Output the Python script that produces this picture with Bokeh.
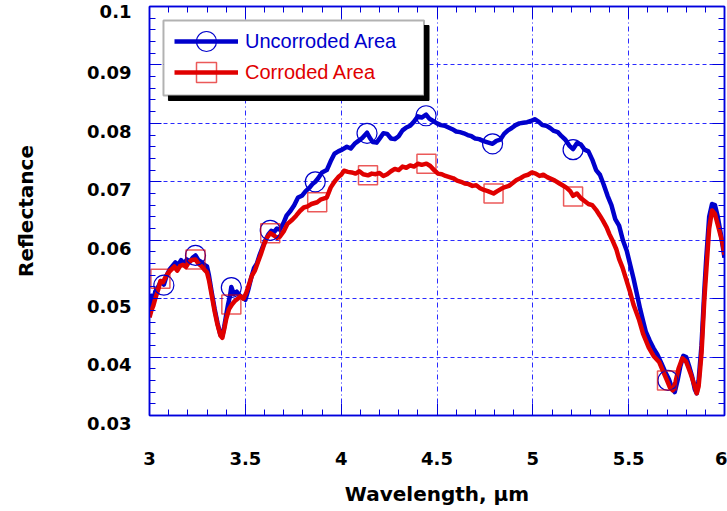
from bokeh.plotting import figure
from bokeh.models import (LinearAxis, Legend, LegendItem, BoxAnnotation, FixedTicker,
                          ColumnDataSource, NumeralTickFormatter, CustomJSTickFormatter)
from bokeh.embed import file_html
from bokeh.resources import INLINE

# ---------------- data ----------------
unc_x = [3.000, 3.010, 3.020, 3.030, 3.045, 3.060, 3.075, 3.090, 3.105, 3.120, 3.135, 3.150, 3.165,
         3.180, 3.195, 3.210, 3.225, 3.240, 3.255, 3.270, 3.285, 3.300, 3.310, 3.325, 3.340, 3.355,
         3.370, 3.380, 3.390, 3.400, 3.410, 3.420, 3.427, 3.440, 3.455, 3.470, 3.485, 3.500, 3.515,
         3.530, 3.545, 3.560, 3.575, 3.590, 3.605, 3.620, 3.635, 3.650, 3.665, 3.680, 3.700, 3.715,
         3.735, 3.755, 3.775, 3.795, 3.815, 3.835, 3.850, 3.865, 3.880, 3.900, 3.925, 3.945, 3.965,
         3.985, 4.005, 4.030, 4.050, 4.070, 4.090, 4.110, 4.135, 4.150, 4.165, 4.185, 4.205, 4.220,
         4.240, 4.260, 4.280, 4.300, 4.320, 4.340, 4.360, 4.380, 4.400, 4.420, 4.443, 4.460, 4.480,
         4.500, 4.520, 4.540, 4.560, 4.580, 4.600, 4.620, 4.640, 4.660, 4.680, 4.700, 4.720, 4.740,
         4.760, 4.790, 4.810, 4.830, 4.850, 4.870, 4.890, 4.910, 4.930, 4.950, 4.970, 4.990, 5.010,
         5.030, 5.050, 5.070, 5.090, 5.110, 5.130, 5.150, 5.170, 5.190, 5.210, 5.230, 5.250, 5.270,
         5.290, 5.310, 5.330, 5.350, 5.370, 5.390, 5.410, 5.430, 5.450, 5.470, 5.490, 5.510, 5.525,
         5.545, 5.560, 5.575, 5.590, 5.610, 5.630, 5.650, 5.670, 5.690, 5.710, 5.725, 5.740, 5.755,
         5.770, 5.785, 5.800, 5.815, 5.830, 5.845, 5.855, 5.865, 5.880, 5.895, 5.905, 5.920, 5.935,
         5.950, 5.965, 5.980, 6.000]
unc_y = [0.0478, 0.0505, 0.0496, 0.0512, 0.0520, 0.0530, 0.0524, 0.0540, 0.0550, 0.0556, 0.0562,
         0.0558, 0.0566, 0.0560, 0.0567, 0.0563, 0.0570, 0.0574, 0.0566, 0.0563, 0.0558, 0.0555,
         0.0540, 0.0510, 0.0482, 0.0458, 0.0438, 0.0436, 0.0452, 0.0472, 0.0490, 0.0505, 0.0520,
         0.0508, 0.0512, 0.0506, 0.0502, 0.0498, 0.0515, 0.0535, 0.0552, 0.0560, 0.0575, 0.0588,
         0.0600, 0.0610, 0.0616, 0.0614, 0.0620, 0.0618, 0.0630, 0.0642, 0.0650, 0.0660, 0.0673,
         0.0676, 0.0684, 0.0690, 0.0696, 0.0700, 0.0706, 0.0716, 0.0720, 0.0735, 0.0748, 0.0752,
         0.0755, 0.0760, 0.0757, 0.0765, 0.0770, 0.0775, 0.0784, 0.0775, 0.0768, 0.0767, 0.0776,
         0.0783, 0.0782, 0.0774, 0.0773, 0.0778, 0.0788, 0.0793, 0.0796, 0.0803, 0.0812, 0.0810,
         0.0815, 0.0808, 0.0804, 0.0800, 0.0797, 0.0796, 0.0793, 0.0790, 0.0786, 0.0785, 0.0783,
         0.0780, 0.0778, 0.0774, 0.0773, 0.0770, 0.0768, 0.0765, 0.0770, 0.0772, 0.0782, 0.0788,
         0.0792, 0.0797, 0.0800, 0.0801, 0.0802, 0.0804, 0.0807, 0.0803, 0.0797, 0.0796, 0.0792,
         0.0787, 0.0785, 0.0778, 0.0772, 0.0762, 0.0756, 0.0766, 0.0764, 0.0755, 0.0752, 0.0738,
         0.0720, 0.0712, 0.0695, 0.0676, 0.0660, 0.0636, 0.0625, 0.0600, 0.0582, 0.0555, 0.0535,
         0.0505, 0.0482, 0.0462, 0.0443, 0.0428, 0.0415, 0.0404, 0.0390, 0.0375, 0.0362, 0.0348,
         0.0340, 0.0360, 0.0385, 0.0402, 0.0400, 0.0385, 0.0368, 0.0345, 0.0338, 0.0360, 0.0420,
         0.0515, 0.0570, 0.0640, 0.0662, 0.0660, 0.0640, 0.0612, 0.0570]

cor_x = [3.000, 3.010, 3.020, 3.030, 3.045, 3.057, 3.070, 3.085, 3.100, 3.115, 3.130, 3.145, 3.160,
         3.175, 3.190, 3.205, 3.220, 3.240, 3.255, 3.270, 3.285, 3.300, 3.310, 3.325, 3.340, 3.355,
         3.370, 3.380, 3.390, 3.400, 3.415, 3.430, 3.445, 3.460, 3.475, 3.490, 3.505, 3.520, 3.535,
         3.550, 3.565, 3.580, 3.595, 3.610, 3.630, 3.650, 3.665, 3.680, 3.700, 3.720, 3.745, 3.765,
         3.785, 3.805, 3.825, 3.845, 3.875, 3.895, 3.925, 3.945, 3.965, 3.985, 4.000, 4.015, 4.035,
         4.055, 4.075, 4.095, 4.115, 4.140, 4.160, 4.180, 4.200, 4.220, 4.240, 4.260, 4.280, 4.300,
         4.320, 4.340, 4.360, 4.380, 4.400, 4.420, 4.445, 4.465, 4.485, 4.505, 4.525, 4.545, 4.565,
         4.585, 4.605, 4.625, 4.645, 4.665, 4.685, 4.705, 4.725, 4.745, 4.765, 4.795, 4.815, 4.835,
         4.855, 4.875, 4.895, 4.915, 4.935, 4.955, 4.975, 4.995, 5.015, 5.035, 5.055, 5.075, 5.095,
         5.115, 5.135, 5.155, 5.175, 5.195, 5.210, 5.230, 5.250, 5.270, 5.290, 5.310, 5.330, 5.350,
         5.365, 5.385, 5.400, 5.415, 5.435, 5.450, 5.468, 5.485, 5.505, 5.525, 5.555, 5.575, 5.605,
         5.630, 5.660, 5.680, 5.700, 5.715, 5.730, 5.745, 5.760, 5.780, 5.800, 5.823, 5.840, 5.855,
         5.865, 5.880, 5.895, 5.906, 5.920, 5.935, 5.950, 5.970, 5.990, 6.000]
cor_y = [0.0468, 0.0480, 0.0488, 0.0500, 0.0515, 0.0530, 0.0528, 0.0538, 0.0545, 0.0550, 0.0555,
         0.0548, 0.0556, 0.0558, 0.0554, 0.0562, 0.0566, 0.0567, 0.0560, 0.0556, 0.0550, 0.0545,
         0.0532, 0.0505, 0.0478, 0.0455, 0.0437, 0.0433, 0.0448, 0.0465, 0.0482, 0.0490, 0.0496,
         0.0500, 0.0504, 0.0500, 0.0510, 0.0525, 0.0540, 0.0548, 0.0562, 0.0575, 0.0590, 0.0603,
         0.0612, 0.0608, 0.0604, 0.0606, 0.0615, 0.0628, 0.0635, 0.0642, 0.0650, 0.0656, 0.0658,
         0.0662, 0.0665, 0.0670, 0.0673, 0.0690, 0.0700, 0.0708, 0.0712, 0.0719, 0.0717, 0.0716,
         0.0714, 0.0718, 0.0713, 0.0711, 0.0714, 0.0713, 0.0715, 0.0710, 0.0713, 0.0718, 0.0722,
         0.0720, 0.0726, 0.0724, 0.0728, 0.0726, 0.0731, 0.0729, 0.0731, 0.0727, 0.0720, 0.0714,
         0.0713, 0.0710, 0.0708, 0.0706, 0.0702, 0.0700, 0.0697, 0.0696, 0.0693, 0.0694, 0.0689,
         0.0686, 0.0684, 0.0680, 0.0684, 0.0688, 0.0691, 0.0693, 0.0698, 0.0703, 0.0706, 0.0710,
         0.0712, 0.0716, 0.0714, 0.0710, 0.0712, 0.0708, 0.0705, 0.0702, 0.0698, 0.0694, 0.0690,
         0.0684, 0.0676, 0.0680, 0.0672, 0.0667, 0.0662, 0.0660, 0.0652, 0.0642, 0.0634, 0.0622,
         0.0610, 0.0600, 0.0585, 0.0568, 0.0553, 0.0535, 0.0514, 0.0490, 0.0463, 0.0440, 0.0416,
         0.0402, 0.0391, 0.0375, 0.0360, 0.0348, 0.0343, 0.0358, 0.0380, 0.0398, 0.0392, 0.0372,
         0.0355, 0.0338, 0.0350, 0.0406, 0.0500, 0.0553, 0.0620, 0.0651, 0.0645, 0.0620, 0.0595,
         0.0575]

# marker positions
unc_mx = [3.075, 3.240, 3.427, 3.630, 3.865, 4.135, 4.443, 4.790, 5.210, 5.705]
unc_my = [0.0523, 0.0574, 0.0519, 0.0617, 0.0700, 0.0783, 0.0813, 0.0765, 0.0755, 0.0360]
cor_mx = [3.057, 3.240, 3.427, 3.630, 3.875, 4.140, 4.445, 4.795, 5.210, 5.700]
cor_my = [0.0534, 0.0567, 0.0490, 0.0612, 0.0665, 0.0711, 0.0731, 0.0680, 0.0675, 0.0360]

series_names = ["Uncorroded Area", "Corroded Area"]
x_ticks = [3.0, 3.5, 4.0, 4.5, 5.0, 5.5, 6.0]
x_minor = [3.0 + 0.1 * i for i in range(31)]
y_ticks = [0.03, 0.04, 0.05, 0.06, 0.07, 0.08, 0.09, 0.10]
y_minor = [0.03 + 0.002 * i for i in range(36)]

# ---------------- styling ----------------
BLUE = "#0000cc"
RED = "#e00000"
AXIS = "#0000dd"
GRID = "#2a2aff"
FONT = "DejaVu Sans"

Y0, Y1 = 0.03, 0.1
FRAME_H = 409.0

p = figure(width=727, height=511, x_range=(3, 6), y_range=(Y0, Y1),
           output_backend="svg", toolbar_location=None,
           min_border_top=6, min_border_right=3, min_border_left=149, min_border_bottom=96,
           x_axis_label="Wavelength, \u03bcm", y_axis_label="Reflectance")
p.background_fill_color = "white"
p.border_fill_color = "white"
p.outline_line_color = AXIS
p.outline_line_width = 1.5

xt = FixedTicker(ticks=x_ticks, minor_ticks=x_minor)
yt = FixedTicker(ticks=y_ticks, minor_ticks=y_minor)


def tick_only(ax):
    ax.axis_line_color = AXIS
    ax.axis_line_width = 1.5
    ax.major_tick_line_color = AXIS
    ax.minor_tick_line_color = AXIS
    ax.major_tick_in = 12
    ax.major_tick_out = 0
    ax.minor_tick_in = 6
    ax.minor_tick_out = 0


def text_style(ax):
    ax.major_label_text_font = FONT
    ax.major_label_text_font_style = "bold"
    ax.major_label_text_font_size = "18px"
    ax.major_label_text_color = "black"
    ax.axis_label_text_font = FONT
    ax.axis_label_text_font_style = "bold"
    ax.axis_label_text_font_size = "20px"
    ax.axis_label_text_color = "black"


# bottom axis
xa = p.xaxis[0]
xa.ticker = xt
xa.formatter = NumeralTickFormatter(format="0[.]0")
tick_only(xa)
text_style(xa)
xa.major_label_standoff = 36
xa.axis_label_standoff = 14

# left axis: labels sit a few px below their ticks (an empty first line pushes them down);
# the top label stays single-line so it is kept inside the canvas
ya = p.yaxis[0]
ya.ticker = yt
ya.formatter = CustomJSTickFormatter(
    code="const s = (Math.round(tick * 100) / 100).toString();"
         "return index == ticks.length - 1 ? s : '\\n' + s;")
tick_only(ya)
text_style(ya)
ya.major_label_text_line_height = 0.75
ya.major_label_standoff = 18
ya.axis_label_standoff = 46

for side in ("above", "right"):
    ax = LinearAxis(ticker=xt if side == "above" else yt)
    tick_only(ax)
    ax.major_label_text_font_size = "0px"
    ax.major_label_text_color = None
    ax.major_label_standoff = 0
    p.add_layout(ax, side)

p.xgrid.ticker = xt
p.ygrid.ticker = yt
p.xgrid.grid_line_color = GRID
p.ygrid.grid_line_color = GRID
p.xgrid.grid_line_width = 1
p.ygrid.grid_line_width = 1
p.xgrid.grid_line_dash = "5 3 1 3"
p.ygrid.grid_line_dash = "4 3"

src_u = ColumnDataSource(dict(x=unc_x, y=unc_y))
src_c = ColumnDataSource(dict(x=cor_x, y=cor_y))
src_um = ColumnDataSource(dict(x=unc_mx, y=unc_my))
src_cm = ColumnDataSource(dict(x=cor_mx, y=cor_my))

lu = p.line("x", "y", source=src_u, line_color=BLUE, line_width=4.5, line_join="round")
lc = p.line("x", "y", source=src_c, line_color=RED, line_width=4.5, line_join="round")
mu = p.scatter("x", "y", source=src_um, marker="circle", size=20, fill_alpha=0,
               line_color=BLUE, line_width=1.2)
mc = p.scatter("x", "y", source=src_cm, marker="square", size=19, fill_alpha=0,
               line_color=RED, line_alpha=0.65, line_width=1.5)


# legend frame with drop shadow (pixel -> data conversion of the box corners)
def px_x(px):
    return 3 + (px - 149) / 192.0


def px_y(py):
    return Y0 + (415 - py) / (FRAME_H / (Y1 - Y0))


shadow = BoxAnnotation(left=px_x(168), right=px_x(429), top=px_y(25), bottom=px_y(100),
                       fill_color="black", fill_alpha=1, line_color="black", line_alpha=1)
box = BoxAnnotation(left=px_x(163), right=px_x(424), top=px_y(20), bottom=px_y(95),
                    fill_color="white", fill_alpha=1, line_color="black", line_width=2)
p.add_layout(shadow)
p.add_layout(box)

for name, rends, color, loc in ((series_names[0], [lu, mu], BLUE, (25, 349)),
                                (series_names[1], [lc, mc], RED, (25, 318))):
    lg = Legend(items=[LegendItem(label=name, renderers=rends)], location=loc,
                padding=0, margin=0, spacing=0, glyph_width=64, glyph_height=50,
                label_standoff=7, label_text_font="Liberation Sans", label_text_font_size="20px",
                label_text_color=color, background_fill_alpha=0, border_line_alpha=0)
    p.add_layout(lg, "center")

open("out.html", "w").write(file_html(p, INLINE))
